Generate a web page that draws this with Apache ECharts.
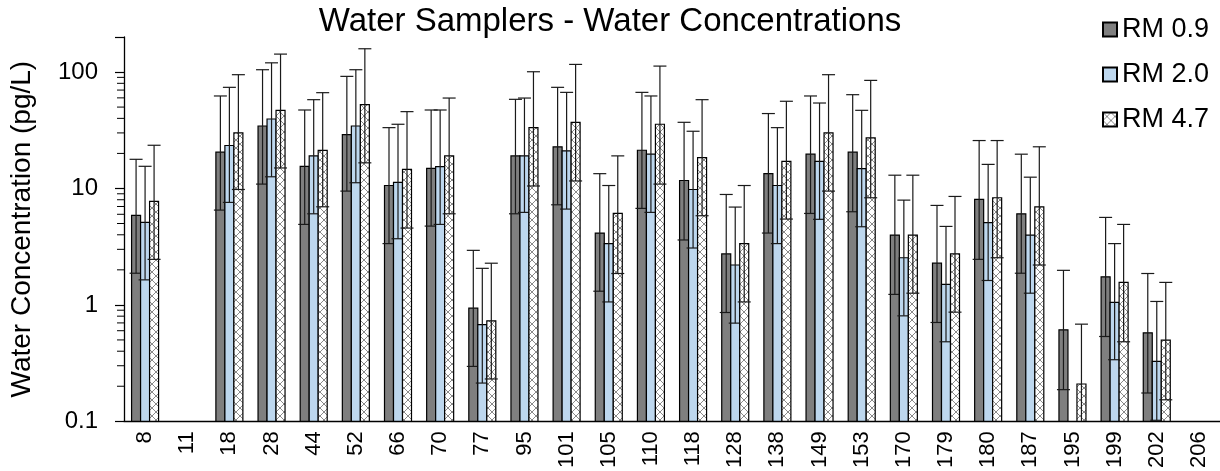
<!DOCTYPE html>
<html>
<head>
<meta charset="utf-8">
<script src="https://cdn.jsdelivr.net/npm/echarts@6/dist/echarts.min.js"></script>
<style>
html,body{margin:0;padding:0;background:#fff;}
#chart{width:1220px;height:471px;}
</style>
</head>
<body>
<div id="chart"></div>
<script>
// ---- data ----
const categories = ['8','11','18','28','44','52','66','70','77','95','101','105','110','118','128','138','149','153','170','179','180','187','195','199','202','206'];
const seriesNames = ['RM 0.9','RM 2.0','RM 4.7'];

const rm09   = [5.87, null, 20.5, 34.4, 15.5, 29.0, 10.6, 14.9, 0.936, 19.05, 22.8, 4.14, 21.3, 11.7, 2.74, 13.4, 19.7, 20.5, 3.98, 2.28, 8.05, 6.06, 0.61, 1.74, 0.575, null];
const rm09Hi = [17.8, null, 62.3, 104.7, 47.2, 91.8, 33.3, 47.2, 2.94, 58.3, 73.9, 13.4, 66.9, 37.0, 8.88, 44.0, 62.3, 63.9, 13.0, 7.15, 25.8, 19.7, 1.98, 5.64, 1.86, null];
const rm09Lo = [1.87, null, 6.52, 10.9, 4.91, 9.49, 3.36, 4.75, 0.296, 6.06, 7.24, 1.31, 6.74, 3.61, 0.86, 4.14, 6.1, 6.31, 1.23, 0.706, 2.46, 1.87, 0.187, 0.535, 0.175, null];

const rm20   = [5.11, null, 23.4, 39.5, 19.05, 34.4, 11.3, 15.4, 0.678, 19.05, 21.0, 3.36, 19.7, 9.8, 2.2, 10.6, 17.1, 14.8, 2.54, 1.5, 5.08, 3.98, null, 1.05, 0.327, null];
const rm20Hi = [15.5, null, 73.9, 120, 57.9, 104.7, 35.6, 47.2, 2.06, 59.8, 66.9, 10.6, 62.3, 31.0, 6.92, 33.3, 54.2, 46.9, 7.94, 4.72, 16.1, 12.5, null, 3.36, 1.07, null];
const rm20Lo = [1.64, null, 7.59, 12.6, 6.06, 11.2, 3.7, 4.91, 0.213, 6.23, 6.65, 1.06, 6.23, 3.08, 0.697, 3.36, 5.43, 4.69, 0.805, 0.482, 1.62, 1.26, null, 0.338, 0.102, null];

const rm47   = [7.74, null, 30.0, 46.9, 21.2, 52.5, 14.6, 19.05, 0.729, 33.3, 37.0, 6.1, 35.6, 18.4, 3.36, 17.1, 30.0, 27.2, 3.98, 2.74, 8.32, 6.96, 0.209, 1.56, 0.498, null];
const rm47Hi = [23.5, null, 94.9, 142.6, 66.5, 158.5, 45.7, 59.8, 2.28, 100.6, 116.3, 19.05, 112.5, 57.9, 10.6, 56.1, 94.9, 84.8, 13.0, 8.54, 25.8, 22.8, 0.683, 4.91, 1.56, null];
const rm47Lo = [2.46, null, 9.8, 15.0, 6.96, 16.6, 4.57, 6.06, 0.231, 10.5, 11.6, 1.86, 10.9, 5.83, 1.06, 5.46, 9.49, 8.32, 1.26, 0.866, 2.54, 2.2, 0.065, 0.482, 0.153, null];

const yMin = 0.1, yMax = 200;
const minorTickValues = [0.2,0.3,0.4,0.5,0.6,0.7,0.8,0.9, 2,3,4,5,6,7,8,9, 20,30,40,50,60,70,80,90];

// ---- styling ----
const FONT = 'Liberation Sans, Arial, sans-serif';
function makeHatch(){
  const c = document.createElement('canvas');
  c.width = 8; c.height = 8;
  const g = c.getContext('2d');
  g.fillStyle = '#ffffff'; g.fillRect(0,0,8,8);
  g.strokeStyle = '#8a8a8a'; g.lineWidth = 1;
  g.beginPath();
  g.moveTo(0,0); g.lineTo(8,8);
  g.moveTo(8,0); g.lineTo(0,8);
  g.stroke();
  return {image: c, repeat: 'repeat'};
}
const fills = ['#7f7f7f', '#bdd7ee', makeHatch()];

function buildData(v, lo, hi){
  const out = [];
  for (let i = 0; i < categories.length; i++){
    if (v[i] == null) continue;
    out.push([i, v[i], lo[i], hi[i]]);
  }
  return out;
}
const seriesData = [
  buildData(rm09, rm09Lo, rm09Hi),
  buildData(rm20, rm20Lo, rm20Hi),
  buildData(rm47, rm47Lo, rm47Hi)
];

const BW = 9, CAP = 13, LW = 1.2;
function makeRender(k){
  return function(params, api){
    const cs = params.coordSys;
    const cat = api.value(0), v = api.value(1), lo = api.value(2), hi = api.value(3);
    const p = api.coord([cat, v]);
    const cx = p[0] + (k - 1) * BW;
    const yBase = cs.y + cs.height;
    const yTop = p[1];
    const yHi = api.coord([cat, hi])[1];
    let yLo = api.coord([cat, lo])[1];
    const clipped = !(yLo < yBase);
    if (clipped) yLo = yBase;
    const children = [
      {type:'rect', shape:{x:cx - BW/2, y:yTop, width:BW, height:yBase - yTop},
       style:{fill: fills[k], stroke:'#000', lineWidth:LW}},
      {type:'line', shape:{x1:cx, y1:yHi, x2:cx, y2:yLo}, style:{stroke:'#1a1a1a', lineWidth:LW}},
      {type:'line', shape:{x1:cx - CAP/2, y1:yHi, x2:cx + CAP/2, y2:yHi}, style:{stroke:'#1a1a1a', lineWidth:LW}}
    ];
    if (!clipped) children.push({type:'line', shape:{x1:cx - CAP/2, y1:yLo, x2:cx + CAP/2, y2:yLo}, style:{stroke:'#1a1a1a', lineWidth:LW}});
    return {type:'group', children: children};
  };
}

const series = seriesNames.map(function(name, k){
  return {
    name: name,
    type: 'custom',
    renderItem: makeRender(k),
    itemStyle: {color: fills[k], borderColor:'#000', borderWidth:1},
    encode: {x: 0, y: 1},
    data: seriesData[k],
    z: 2 + k
  };
});
series.push({
  name: 'minorTicks',
  type: 'custom',
  silent: true,
  renderItem: function(params, api){
    const y = api.coord([0, api.value(0)])[1];
    const x0 = params.coordSys.x;
    return {type:'line', shape:{x1:x0 - 7, y1:y, x2:x0, y2:y}, style:{stroke:'#000', lineWidth:1}};
  },
  encode: {x: -1, y: 0},
  data: minorTickValues.map(function(v){ return [v]; }),
  z: 5
});

const chart = echarts.init(document.getElementById('chart'), null, {renderer:'canvas'});
chart.setOption({
  animation: false,
  backgroundColor: '#ffffff',
  textStyle: {fontFamily: FONT},
  title: {
    text: 'Water Samplers - Water Concentrations',
    left: 'center', top: 0,
    textStyle: {fontFamily: FONT, fontSize: 33, fontWeight: 'normal', color: '#000'}
  },
  legend: {
    orient: 'vertical',
    left: 1097, top: 11,
    itemWidth: 14, itemHeight: 14, itemGap: 18,
    icon: 'rect',
    data: seriesNames,
    textStyle: {fontFamily: FONT, fontSize: 27, color: '#000'}
  },
  grid: {left: 123, right: 0, top: 37, bottom: 49, containLabel: false},
  xAxis: {
    type: 'category',
    data: categories,
    boundaryGap: true,
    axisLine: {lineStyle: {color: '#000', width: 1.3}},
    axisTick: {show: false},
    axisLabel: {rotate: 90, interval: 0, margin: 10, fontFamily: FONT, fontSize: 22, color: '#000'},
    splitLine: {show: false}
  },
  yAxis: {
    type: 'log',
    logBase: 10,
    min: yMin, max: yMax,
    name: 'Water Concentration (pg/L)',
    nameLocation: 'middle',
    nameGap: 88,
    nameTextStyle: {fontFamily: FONT, fontSize: 28, color: '#000'},
    axisLine: {show: true, lineStyle: {color: '#000', width: 1.3}},
    axisTick: {show: true, length: 9, lineStyle: {color: '#000', width: 1.2}},
    splitLine: {show: false},
    axisLabel: {
      margin: 26, fontFamily: FONT, fontSize: 24, color: '#000',
      formatter: function(v){
        const e = Math.log10(v);
        if (Math.abs(e - Math.round(e)) > 1e-6) return '';
        const r = Math.round(e);
        return r >= 0 ? String(Math.pow(10, r)) : (Math.pow(10, r)).toFixed(-r);
      }
    }
  },
  series: series
});
</script>
</body>
</html>
